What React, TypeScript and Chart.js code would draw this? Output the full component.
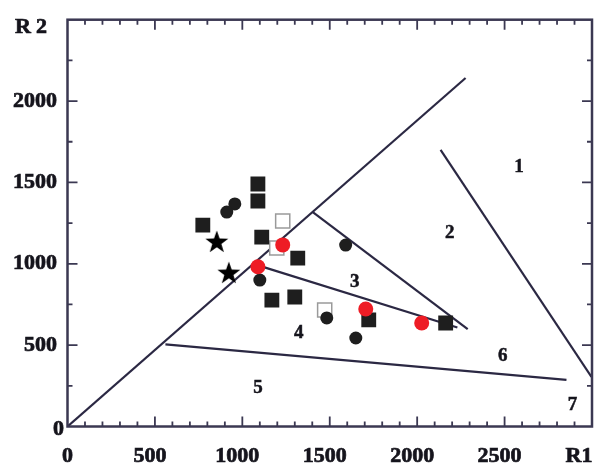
import React, { useEffect, useRef } from 'react';
import { Chart, registerables } from 'chart.js';
Chart.register(...registerables);

// ---- data (R1, R2) ----
const filledSquaresR1 = [1089, 1089, 774, 1111, 1317, 1169, 1300, 1723, 2163];
const filledSquaresR2 = [1490, 1386, 1238, 1164, 1035, 777, 796, 655, 636];
const filledCirclesR1 = [957, 911, 1100, 1591, 1483, 1649];
const filledCirclesR2 = [1368, 1318, 900, 1115, 667, 544];
const redCirclesR1 = [1231, 1089, 1706, 2026];
const redCirclesR2 = [1116, 982, 722, 636];
const openSquaresR1 = [1231, 1197, 1471];
const openSquaresR2 = [1263, 1097, 716];
const starsR1 = [854, 923];
const starsR2 = [1134, 943];

// boundary segments: [R1 start, R2 start, R1 end, R2 end]
const boundaryA = [0, 0, 2277, 2142];
const boundaryB = [560, 505, 2854, 286];
const boundaryC = [2134, 1700, 2997, 305];
const boundaryD = [1403, 1317, 2289, 599];
const boundaryE = [1090, 990, 2230, 608];

const regionNames = ['1', '2', '3', '4', '5', '6', '7'];
const regionR1 = [2583, 2186, 1643, 1323, 1089, 2489, 2889];
const regionR2 = [1595, 1189, 888, 575, 237, 433, 132];

const xTickLabels = [0, 500, 1000, 1500, 2000, 2500];
const yTickLabels = [0, 500, 1000, 1500, 2000];
const xTitle = 'R1';
const yTitle = 'R2';

const LINE = '#2b2843';
const AXIS = '#3b3852';
const TEXT = '#15141c';

function pts(xs: number[], ys: number[]) {
  return xs.map((v, i) => ({ x: v, y: ys[i] }));
}
function seg(s: number[]) {
  return [{ x: s[0], y: s[1] }, { x: s[2], y: s[3] }];
}

function makeStar(): HTMLCanvasElement {
  const c = document.createElement('canvas');
  c.width = 26; c.height = 26;
  const g = c.getContext('2d')!;
  const cx = 13, cy = 13.5, ro = 12, ri = 4.8;
  g.beginPath();
  for (let i = 0; i < 10; i++) {
    const r = i % 2 === 0 ? ro : ri;
    const a = -Math.PI / 2 + (i * Math.PI) / 5;
    const px = cx + r * Math.cos(a), py = cy + r * Math.sin(a);
    if (i === 0) g.moveTo(px, py); else g.lineTo(px, py);
  }
  g.closePath();
  g.fillStyle = '#000';
  g.fill();
  return c;
}

function boldText(ctx: CanvasRenderingContext2D, s: string, x: number, y: number) {
  ctx.fillText(s, x, y);
  ctx.strokeText(s, x, y);
}

const axesPlugin = {
  id: 'customAxes',
  afterDraw(chart: any) {
    const { ctx, chartArea, scales } = chart;
    const { left, right, top, bottom } = chartArea;
    const xs = scales.x, ys = scales.y;
    ctx.save();
    ctx.strokeStyle = AXIS;
    ctx.lineWidth = 2.5;
    ctx.strokeRect(left, top, right - left, bottom - top);
    ctx.lineWidth = 1.8;
    ctx.beginPath();
    for (let v = 100; v < 3000; v += 100) {
      const px = xs.getPixelForValue(v);
      const len = v % 500 === 0 ? 10 : 5;
      ctx.moveTo(px, bottom); ctx.lineTo(px, bottom - len);
      ctx.moveTo(px, top); ctx.lineTo(px, top + len);
    }
    for (let v = 250; v < 2500; v += 250) {
      const py = ys.getPixelForValue(v);
      const len = v % 500 === 0 ? 10 : 5;
      ctx.moveTo(left, py); ctx.lineTo(left + len, py);
      ctx.moveTo(right, py); ctx.lineTo(right - len, py);
    }
    ctx.stroke();

    ctx.fillStyle = TEXT;
    ctx.strokeStyle = TEXT;
    ctx.lineWidth = 0.7;
    ctx.font = 'bold 22px "Liberation Serif", "DejaVu Serif", serif';
    ctx.textBaseline = 'middle';
    ctx.textAlign = 'center';
    xTickLabels.forEach((v) => {
      const px = xs.getPixelForValue(v) + (v === 0 ? 0 : -5);
      boldText(ctx, String(v), px, 456);
    });
    ctx.textAlign = 'right';
    yTickLabels.forEach((v) => {
      const py = ys.getPixelForValue(v);
      if (v === 0) boldText(ctx, '0', 64, py + 3);
      else boldText(ctx, String(v), 57, py);
    });
    ctx.textAlign = 'center';
    boldText(ctx, xTitle, 579, 456);
    (ctx as any).letterSpacing = '5px';
    ctx.textAlign = 'left';
    boldText(ctx, yTitle, 15, 27);
    (ctx as any).letterSpacing = '0px';

    ctx.font = 'bold 19px "Liberation Serif", "DejaVu Serif", serif';
    ctx.lineWidth = 0.5;
    ctx.textAlign = 'center';
    regionNames.forEach((n, i) => {
      boldText(ctx, n, xs.getPixelForValue(regionR1[i]), ys.getPixelForValue(regionR2[i]));
    });
    ctx.restore();
  },
};

export default function App() {
  const ref = useRef<HTMLCanvasElement>(null);
  useEffect(() => {
    if (!ref.current) return;
    const star = makeStar();
    const lineDs = (s: number[]) => ({
      data: seg(s),
      showLine: true,
      borderColor: LINE,
      borderWidth: 2.2,
      pointRadius: 0,
      order: 10,
    });
    const chart = new Chart(ref.current, {
      type: 'scatter',
      data: {
        datasets: [
          lineDs(boundaryA),
          lineDs(boundaryB),
          lineDs(boundaryC),
          lineDs(boundaryD),
          lineDs(boundaryE),
          {
            data: pts(openSquaresR1, openSquaresR2),
            pointStyle: 'rect',
            pointRadius: 10,
            backgroundColor: '#ffffff',
            borderColor: '#9a9a9a',
            borderWidth: 1.5,
            order: 6,
          },
          {
            data: pts(filledSquaresR1, filledSquaresR2),
            pointStyle: 'rect',
            pointRadius: 10.5,
            backgroundColor: '#1e1e1e',
            borderColor: '#1e1e1e',
            borderWidth: 0,
            order: 5,
          },
          {
            data: pts(filledCirclesR1, filledCirclesR2),
            pointStyle: 'circle',
            pointRadius: 6.5,
            backgroundColor: '#1e1e1e',
            borderColor: '#1e1e1e',
            borderWidth: 0,
            order: 4,
          },
          {
            data: pts(starsR1, starsR2),
            pointStyle: star as any,
            pointRadius: 12,
            backgroundColor: '#000',
            borderColor: '#000',
            order: 3,
          },
          {
            data: pts(redCirclesR1, redCirclesR2),
            pointStyle: 'circle',
            pointRadius: 7.5,
            backgroundColor: '#ee1c25',
            borderColor: '#ee1c25',
            borderWidth: 0,
            order: 1,
          },
        ] as any,
      },
      options: {
        animation: false,
        responsive: false,
        maintainAspectRatio: false,
        layout: { padding: { left: 67.5, right: 15, top: 19.7, bottom: 39.5 } },
        plugins: { legend: { display: false }, tooltip: { enabled: false } },
        events: [],
        scales: {
          x: { type: 'linear', min: 0, max: 3000, display: false },
          y: { type: 'linear', min: 0, max: 2500, display: false },
        },
      },
      plugins: [axesPlugin],
    });
    return () => chart.destroy();
  }, []);
  return (
    <div style={{ position: 'absolute', left: 0, top: 0, width: 607, height: 466 }}>
      <canvas ref={ref} width={607} height={466} style={{ display: 'block' }} />
    </div>
  );
}
